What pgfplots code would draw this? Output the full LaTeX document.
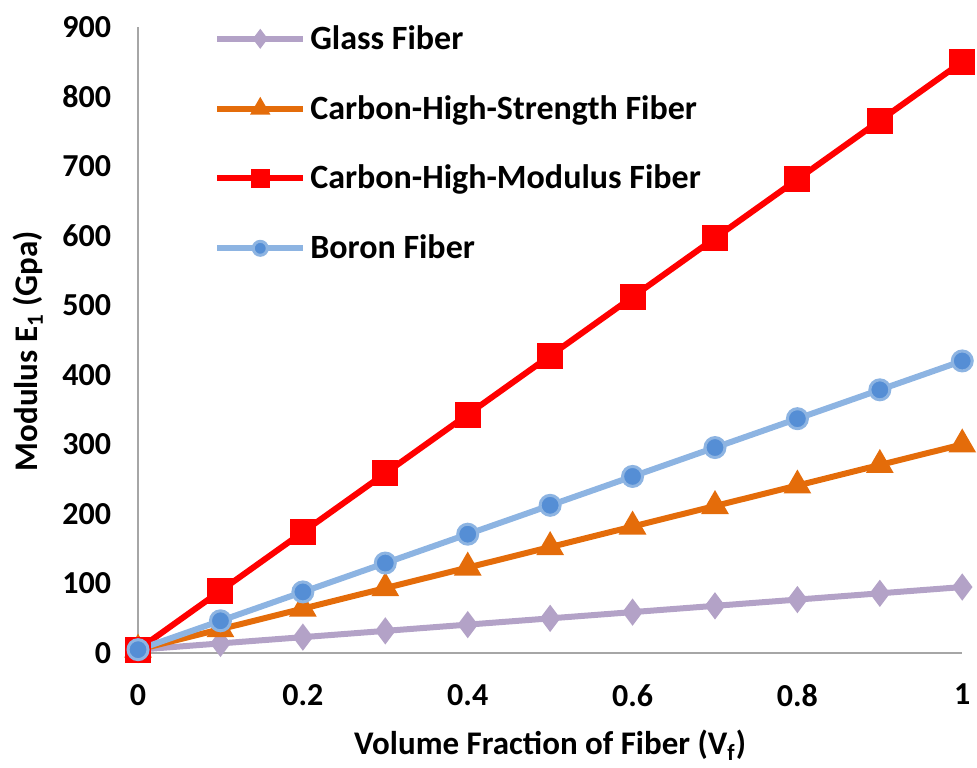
\documentclass[border=0pt]{standalone}
\usepackage{fontspec}
\setmainfont{Carlito}
\usepackage{pgfplots}
\pgfplotsset{compat=1.18}
\definecolor{glass}{HTML}{B3A2C7}
\definecolor{hs}{HTML}{E46C0A}
\definecolor{hm}{HTML}{FF0000}
\definecolor{boron}{HTML}{8DB4E2}
\definecolor{boronm}{HTML}{558ED5}
\definecolor{axgray}{HTML}{A6A6A6}
\begin{document}
\begin{tikzpicture}
\begin{axis}[
  scale only axis, width=412bp, height=313bp,
  xmin=0, xmax=1, ymin=0, ymax=900,
  clip=false,
  axis lines=left,
  axis line style={draw=axgray, line width=1bp, -},
  xtick={0,0.2,0.4,0.6,0.8,1}, xticklabels={0,0.2,0.4,0.6,0.8,1},
  ytick={0,100,200,300,400,500,600,700,800,900},
  major tick length=0pt,
  /pgf/number format/assume math mode=true,
  tick label style={font=\fontsize{16bp}{19bp}\selectfont\bfseries},
  xticklabel style={yshift=-12bp},
  yticklabel style={xshift=-10bp},
  xlabel={Volume Fraction of Fiber (V\textsubscript{f})},
  ylabel={Modulus E\textsubscript{1} (Gpa)},
  label style={font=\fontsize{16.5bp}{19bp}\selectfont\bfseries},
  xlabel style={at={([yshift=-46bp]axis description cs:0.5,0)}, anchor=center},
  ylabel style={at={([xshift=-55bp,yshift=-5.5bp]axis description cs:0,0.5)}, anchor=center},
  legend style={at={([yshift=3bp]axis description cs:0.092,1.0)}, anchor=north west,
    draw=none, fill=none, font=\fontsize{17bp}{20bp}\selectfont\bfseries,
    row sep=17.5bp, inner sep=0pt},
  legend cell align=left,
  legend image code/.code={\draw[mark repeat=2,mark phase=2,every mark/.append style={scale=0.7}] plot coordinates {(0bp,0bp) (21.5bp,0bp) (43bp,0bp)};},
]
\addplot[color=glass, line width=3bp, mark=diamond*, mark size=6bp, mark options={fill=glass, line width=1bp}] coordinates {
(0,5) (0.1,14) (0.2,23) (0.3,32) (0.4,41) (0.5,50) (0.6,59) (0.7,68) (0.8,77) (0.9,86) (1,95)};
\addlegendentry{Glass Fiber}
\addplot[color=hs, line width=3bp, mark=triangle*, mark size=7bp, mark options={fill=hs, line width=1bp}] coordinates {
(0,5) (0.1,34.5) (0.2,64) (0.3,93.5) (0.4,123) (0.5,152.5) (0.6,182) (0.7,211.5) (0.8,241) (0.9,270.5) (1,300)};
\addlegendentry{Carbon-High-Strength Fiber}
\addplot[color=hm, line width=3bp, mark=square*, mark size=6bp, mark options={fill=hm, line width=1bp}] coordinates {
(0,5) (0.1,89.5) (0.2,174) (0.3,258.5) (0.4,343) (0.5,427.5) (0.6,512) (0.7,596.5) (0.8,681) (0.9,765.5) (1,850)};
\addlegendentry{Carbon-High-Modulus Fiber}
\addplot[color=boron, line width=3bp, mark=*, mark size=5bp, mark options={draw=boron, fill=boronm, line width=1.5bp}] coordinates {
(0,5) (0.1,46.5) (0.2,88) (0.3,129.5) (0.4,171) (0.5,212.5) (0.6,254) (0.7,295.5) (0.8,337) (0.9,378.5) (1,420)};
\addlegendentry{Boron Fiber}
\end{axis}
\path ([xshift=-69bp,yshift=13.5bp]current axis.north west);
\path ([yshift=-57bp]current axis.south west);
\end{tikzpicture}
\end{document}
